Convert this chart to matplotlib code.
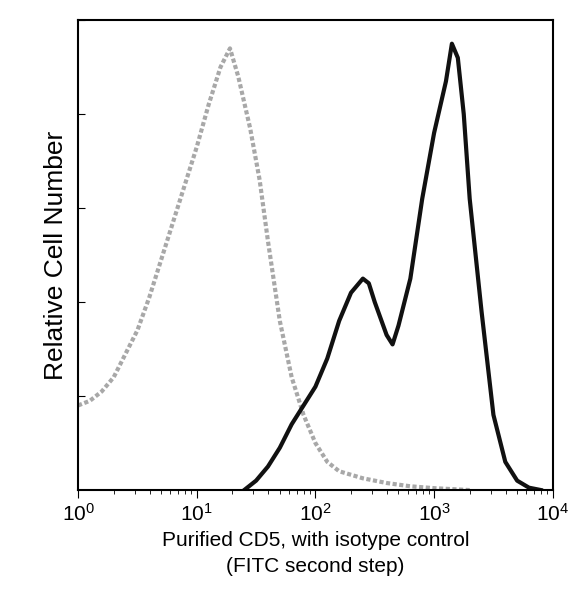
import numpy as np
import matplotlib.pyplot as plt
from matplotlib.ticker import LogLocator, FixedLocator

plt.rcParams['font.family'] = ['Liberation Sans', 'DejaVu Sans']

# log10 of fluorescence, relative counts
iso_logx = [0.0, 0.1, 0.2, 0.3, 0.4, 0.5, 0.6, 0.7, 0.8, 0.9, 1.0, 1.1, 1.2, 1.28, 1.35,
            1.45, 1.53, 1.6, 1.7, 1.8, 1.9, 2.0, 2.1, 2.2, 2.4, 2.6, 2.8, 3.0, 3.3]
iso_y = [0.18, 0.19, 0.21, 0.24, 0.29, 0.34, 0.41, 0.49, 0.57, 0.65, 0.73, 0.82, 0.90, 0.94, 0.88,
         0.77, 0.66, 0.53, 0.36, 0.24, 0.16, 0.10, 0.06, 0.04, 0.025, 0.015, 0.008, 0.004, 0.0]

cd5_logx = [1.4, 1.5, 1.6, 1.7, 1.8, 1.9, 2.0, 2.1, 2.2, 2.3, 2.4, 2.45, 2.5, 2.6, 2.65, 2.7,
            2.8, 2.9, 3.0, 3.1, 3.15, 3.2, 3.25, 3.3, 3.4, 3.5, 3.6, 3.7, 3.8, 3.9]
cd5_y = [0.0, 0.02, 0.05, 0.09, 0.14, 0.18, 0.22, 0.28, 0.36, 0.42, 0.45, 0.44, 0.40, 0.33, 0.31, 0.35,
         0.45, 0.62, 0.76, 0.87, 0.95, 0.92, 0.80, 0.62, 0.38, 0.16, 0.06, 0.02, 0.005, 0.0]

fig = plt.figure(figsize=(5.74, 5.94), dpi=100)
ax = fig.add_axes([0.136, 0.175, 0.827, 0.791])

ax.plot(10 ** np.array(iso_logx), iso_y, color="#a8a8a8", lw=3, ls=(0, (1, 0.6)))
ax.plot(10 ** np.array(cd5_logx), cd5_y, color="#111111", lw=3)

ax.set_xscale("log")
ax.set_xlim(1, 1e4)
ax.set_ylim(0, 1.0)
ax.xaxis.set_major_locator(LogLocator(base=10, numticks=10))
ax.xaxis.set_minor_locator(LogLocator(base=10, subs=np.arange(2, 10), numticks=10))
ax.yaxis.set_major_locator(FixedLocator([0.2, 0.4, 0.6, 0.8, 1.0]))
ax.set_yticklabels([])
ax.tick_params(axis="x", which="major", direction="out", length=6, labelsize=15)
ax.tick_params(axis="x", which="minor", direction="out", length=3)
ax.tick_params(axis="y", direction="in", length=5)

for s in ax.spines.values():
    s.set_linewidth(1.5)

ax.set_xlabel("Purified CD5, with isotype control\n(FITC second step)", fontsize=15, linespacing=1.5)
ax.set_ylabel("Relative Cell Number", fontsize=19)

fig.savefig("out.png", dpi=100)
